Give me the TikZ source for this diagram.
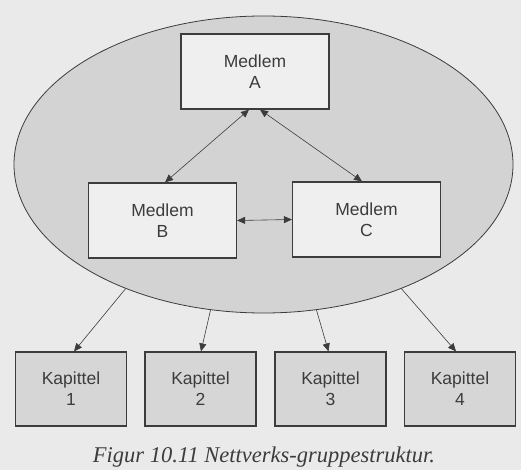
\documentclass[tikz,border=0pt]{standalone}
\usepackage{fontspec}
\setmainfont{Liberation Serif}
\setsansfont{Liberation Sans}
\usetikzlibrary{arrows.meta,shapes.geometric}

\definecolor{paper}{HTML}{EAEAEA}
\definecolor{netfill}{HTML}{D3D3D3}
\definecolor{memberfill}{HTML}{EFEFEF}
\definecolor{chapterfill}{HTML}{D6D6D6}
\definecolor{ink}{HTML}{3C3C3C}

\tikzset{
  member/.style={draw=ink, line width=1.2pt, fill=memberfill, text=ink,
    minimum width=148pt, minimum height=75pt, align=center,
    font=\sffamily\fontsize{17.5}{21}\selectfont},
  chapter/.style={member, fill=chapterfill, minimum width=111pt, minimum height=74pt},
  link/.style={>={Triangle[length=8pt,width=7pt]},
    every edge/.style={draw=ink, line width=0.6pt}}
}

\begin{document}
\begin{tikzpicture}[x=1pt,y=-1pt]
\fill[paper] (0,0) rectangle (521,470);
\useasboundingbox (0,0) rectangle (521,470);

\node[ellipse, draw=ink, line width=0.8pt, fill=netfill,
  minimum width=499pt, minimum height=297pt] (net) at (263.5,164.5) {};

\node[member] (A) at (255,71.5) {Medlem\\A};
\node[member] (B) at (162.5,220.5) {Medlem\\B};
\node[member] (C) at (366.5,219.5) {Medlem\\C};

\node[chapter] (k1) at (71,389) {Kapittel\\1};
\node[chapter] (k2) at (200.5,389) {Kapittel\\2};
\node[chapter] (k3) at (330.5,389) {Kapittel\\3};
\node[chapter] (k4) at (460,389) {Kapittel\\4};

\path[link]
([xshift=-6pt]A.south) edge[<->] ([xshift=2.5pt]B.north)
([xshift=5pt]A.south) edge[<->] ([xshift=-4.5pt]C.north)
(B.east) edge[<->] (C.west)

(net.222.6) edge[->] ([xshift=3pt]k1.north)
(net.250.3) edge[->] ([xshift=0.5pt]k2.north)
(net.290.7) edge[->] ([xshift=-2pt]k3.north)
(net.318) edge[->] ([xshift=-4pt]k4.north)
;

\node[anchor=base, text=ink, font=\itshape\fontsize{22.5}{27}\selectfont]
  (cap) at (264,462) {Figur 10.11 Nettverks-gruppestruktur.};
\end{tikzpicture}
\end{document}
